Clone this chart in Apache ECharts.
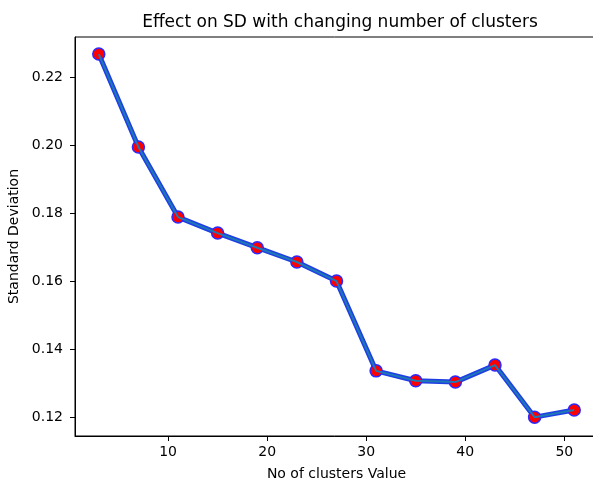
<!DOCTYPE html>
<html>
<head>
<meta charset="utf-8">
<script src="https://cdn.jsdelivr.net/npm/echarts@6/dist/echarts.min.js"></script>
<style>
  html, body { margin: 0; padding: 0; background: #fff; }
  #main { width: 593px; height: 482px; }
</style>
</head>
<body>
<div id="main"></div>
<script>
// number of clusters vs standard deviation
const clusters = [3, 7, 11, 15, 19, 23, 27, 31, 35, 39, 43, 47, 51];
const sd = [0.2268, 0.1995, 0.1789, 0.1742, 0.1699, 0.1657, 0.1601, 0.1337, 0.1308, 0.1304, 0.1354, 0.1201, 0.1222];
const xTicks = [10, 20, 30, 40, 50];
const yTicks = [0.12, 0.14, 0.16, 0.18, 0.20, 0.22];

const points = clusters.map(function (c, i) { return [c, sd[i]]; });

const chart = echarts.init(document.getElementById('main'), null, { renderer: 'canvas' });
const font = 'DejaVu Sans';

const option = {
  animation: false,
  backgroundColor: '#fff',
  textStyle: { fontFamily: font },
  title: {
    text: 'Effect on SD with changing number of clusters',
    left: 335,
    top: 9,
    textAlign: 'center',
    textStyle: { fontFamily: font, fontSize: 17, fontWeight: 'normal', color: '#000' }
  },
  grid: {
    left: 75, width: 523, top: 37, height: 399,
    outerBoundsMode: 'none',
    containLabel: false,
    show: true, borderColor: '#000', borderWidth: 1, backgroundColor: 'transparent'
  },
  xAxis: {
    type: 'value',
    min: 0.6,
    max: 53.4,
    name: 'No of clusters Value',
    nameLocation: 'middle',
    nameGap: 31,
    nameTextStyle: { fontFamily: font, fontSize: 14, color: '#000' },
    splitLine: { show: false },
    axisLine: { show: true, lineStyle: { color: '#000', width: 1 } },
    axisTick: { show: true, inside: false, length: 5, lineStyle: { color: '#000' }, customValues: xTicks },
    axisLabel: { fontFamily: font, fontSize: 14, color: '#000', margin: 9, customValues: xTicks }
  },
  yAxis: {
    type: 'value',
    min: 0.11456,
    max: 0.23182,
    name: 'Standard Deviation',
    nameLocation: 'middle',
    nameGap: 48,
    nameTextStyle: { fontFamily: font, fontSize: 14, color: '#000' },
    splitLine: { show: false },
    axisLine: { show: true, lineStyle: { color: '#000', width: 1 } },
    axisTick: { show: true, inside: false, length: 5, lineStyle: { color: '#000' }, customValues: yTicks },
    axisLabel: {
      fontFamily: font, fontSize: 14, color: '#000', margin: 12, customValues: yTicks,
      formatter: function (v) { return v.toFixed(2); }
    }
  },
  series: [
    {
      type: 'line',
      data: points,
      z: 2,
      symbol: 'circle',
      symbolSize: 12,
      showAllSymbol: true,
      lineStyle: { color: '#1f3fe6', width: 5 },
      itemStyle: { color: '#ff0000', borderColor: '#2a2aff', borderWidth: 1.5 }
    },
    {
      type: 'line',
      data: points,
      z: 3,
      symbol: 'none',
      lineStyle: { color: '#1f77b4', width: 2 }
    }
  ]
};

chart.setOption(option);
</script>
</body>
</html>
